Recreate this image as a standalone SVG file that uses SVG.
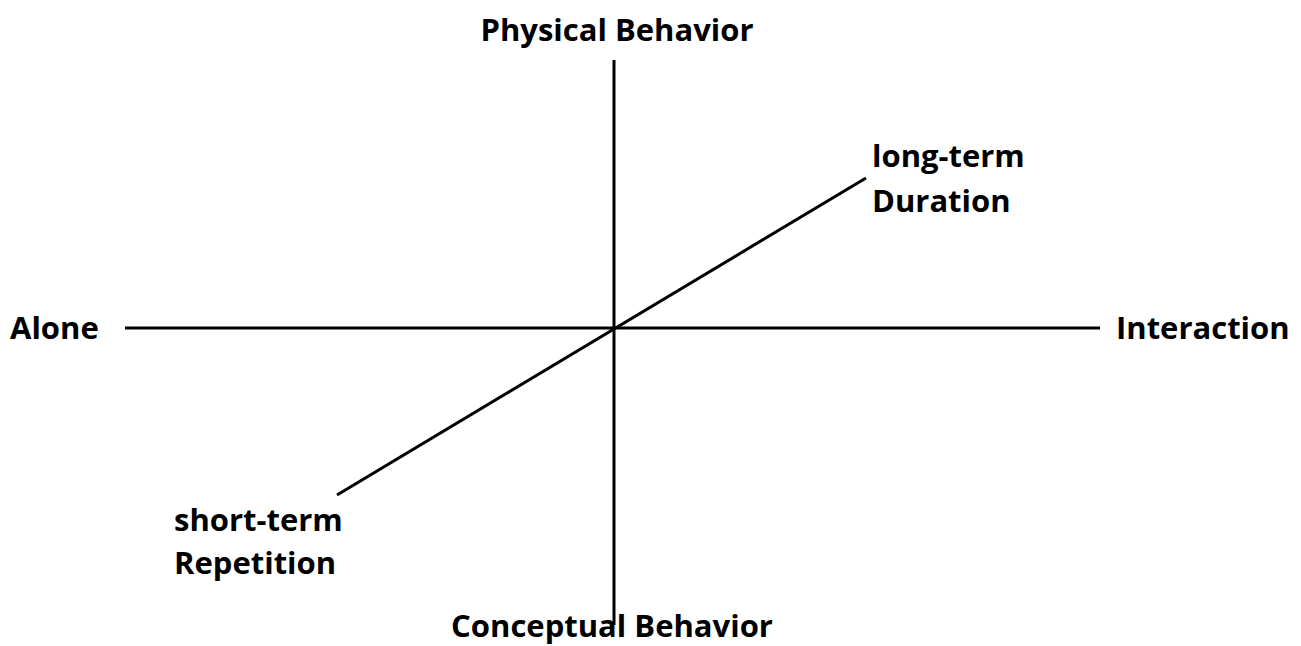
<svg xmlns="http://www.w3.org/2000/svg" width="1301" height="646" viewBox="0 0 1301 646">
<style>
.lbl{font-family:"Open Sans","Liberation Sans",sans-serif;font-weight:bold;font-size:31px;fill:#000}
.ax{stroke:#000;stroke-width:3;fill:none}
</style>
<rect width="1301" height="646" fill="#fff"/>
<g id="connectors">
<line class="ax" x1="614" y1="60" x2="614" y2="625"/>
<line class="ax" x1="125" y1="328" x2="1100" y2="328"/>
<line class="ax" x1="337" y1="495" x2="866" y2="178"/>
</g>
<g id="physical"><text class="lbl" x="617" y="41" text-anchor="middle">Physical Behavior</text></g>
<g id="conceptual"><text class="lbl" x="612" y="637" text-anchor="middle">Conceptual Behavior</text></g>
<g id="alone"><text class="lbl" x="10" y="339">Alone</text></g>
<g id="interaction"><text class="lbl" x="1116" y="339">Interaction</text></g>
<g id="longterm"><text class="lbl" x="872" y="167">long-term</text><text class="lbl" x="872" y="212">Duration</text></g>
<g id="shortterm"><text class="lbl" x="174" y="531">short-term</text><text class="lbl" x="174" y="574">Repetition</text></g>
</svg>
